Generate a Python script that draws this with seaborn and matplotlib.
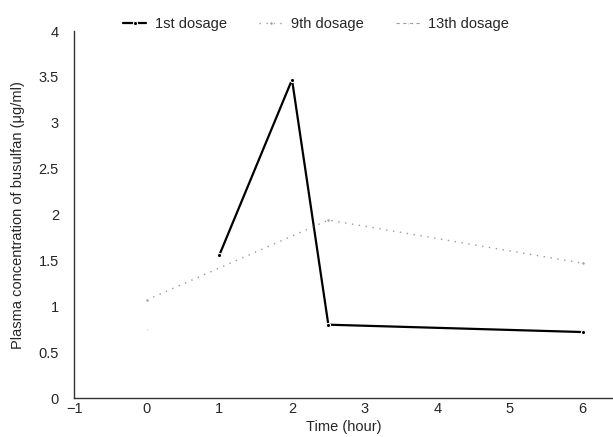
import pandas as pd
import matplotlib
matplotlib.use("Agg")
import matplotlib.pyplot as plt
import seaborn as sns

# Datos
time_1st = [1, 2, 2.5, 6]
conc_1st = [1.56, 3.47, 0.80, 0.72]

time_9th = [0, 2.5, 6]
conc_9th = [1.07, 1.94, 1.47]

time_13th = [0]
conc_13th = [0.75]

series_names = ["1st dosage", "9th dosage", "13th dosage"]
x_ticks = [-1, 0, 1, 2, 3, 4, 5, 6]
y_ticks = [0, 0.5, 1, 1.5, 2, 2.5, 3, 3.5, 4]

df = pd.concat([
    pd.DataFrame({"time": time_1st, "conc": conc_1st, "dosage": series_names[0]}),
    pd.DataFrame({"time": time_9th, "conc": conc_9th, "dosage": series_names[1]}),
    pd.DataFrame({"time": time_13th, "conc": conc_13th, "dosage": series_names[2]}),
])

sns.set_style("white")
plt.rcParams["font.family"] = ["Liberation Sans", "DejaVu Sans"]

fig = plt.figure(figsize=(6.13, 4.37), dpi=100)
ax = fig.add_axes([0.121, 0.089, 0.879, 0.84])

styles = {
    "1st dosage": dict(color="black", linestyle="-", linewidth=1.6, marker="o", markersize=3),
    "9th dosage": dict(color="#9a9a9a", linestyle=(0, (1, 4)), linewidth=1.0, marker="o", markersize=2.5),
    "13th dosage": dict(color="#a0a0a0", linestyle=(0, (3, 3)), linewidth=0.8, marker="^", markersize=2),
}

for name in series_names:
    d = df[df["dosage"] == name]
    sns.lineplot(data=d, x="time", y="conc", ax=ax, label=name, **styles[name])

ax.set_xlim(-1, 6.42)
ax.set_ylim(0, 4)
ax.set_xticks(x_ticks)
ax.set_xticklabels(["\u22121"] + [str(t) for t in x_ticks[1:]])
ax.set_yticks(y_ticks)
ax.set_yticklabels(["0", "0.5", "1", "1.5", "2", "2.5", "3", "3.5", "4"])
ax.tick_params(axis="both", length=0, labelsize=10.5)
ax.tick_params(axis="y", pad=11)
ax.tick_params(axis="x", pad=3)

for side in ["top", "right"]:
    ax.spines[side].set_visible(False)
for side in ["left", "bottom"]:
    ax.spines[side].set_color("#333333")
    ax.spines[side].set_linewidth(1.0)

ax.set_xlabel("Time (hour)", fontsize=10.5, labelpad=3)
ax.set_ylabel("Plasma concentration of busulfan (\u03bcg/ml)", fontsize=10.5, labelpad=10)

ax.legend(loc="lower left", bbox_to_anchor=(0.08, 0.985), ncol=3, frameon=False,
          fontsize=10.5, handlelength=1.6, columnspacing=2.2, handletextpad=0.6,
          borderaxespad=0)

fig.savefig("out.png", dpi=100)
